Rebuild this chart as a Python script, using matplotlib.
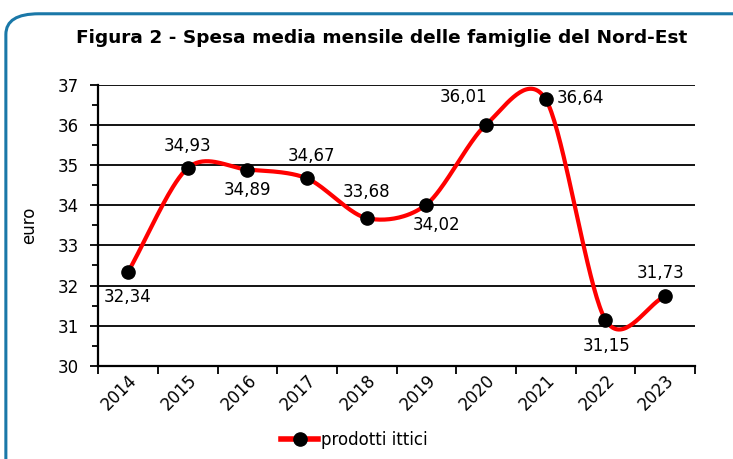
import numpy as np
import matplotlib
matplotlib.use("Agg")
import matplotlib.pyplot as plt
from matplotlib.patches import FancyBboxPatch

plt.rcParams['font.family'] = ['DejaVu Sans']

# dati
anni = ['2014', '2015', '2016', '2017', '2018', '2019', '2020', '2021', '2022', '2023']
spesa = [32.34, 34.93, 34.89, 34.67, 33.68, 34.02, 36.01, 36.64, 31.15, 31.73]
etichette = ['32,34', '34,93', '34,89', '34,67', '33,68', '34,02', '36,01', '36,64', '31,15', '31,73']
# posizione etichette (offset in punti)
offset = [(0, -18), (0, 16), (0, -15), (3, 16), (0, 19), (7, -15), (-16, 20), (25, 1), (1, -19), (-3, 17)]


def catmull_rom(x, y, n=40, k=0.9):
    # curva smussata tipo Excel
    x = np.asarray(x, float)
    y = np.asarray(y, float)
    px = np.concatenate([[2 * x[0] - x[1]], x, [2 * x[-1] - x[-2]]])
    py = np.concatenate([[2 * y[0] - y[1]], y, [2 * y[-1] - y[-2]]])
    xs, ys = [], []
    t = np.linspace(0, 1, n)
    for i in range(1, len(px) - 2):
        p0, p1, p2, p3 = px[i - 1], px[i], px[i + 1], px[i + 2]
        q0, q1, q2, q3 = py[i - 1], py[i], py[i + 1], py[i + 2]
        # bezier
        b1x, b1y = p1 + k * (p2 - p0) / 6, q1 + k * (q2 - q0) / 6
        b2x, b2y = p2 - k * (p3 - p1) / 6, q2 - k * (q3 - q1) / 6
        xs.append((1 - t) ** 3 * p1 + 3 * (1 - t) ** 2 * t * b1x + 3 * (1 - t) * t ** 2 * b2x + t ** 3 * p2)
        ys.append((1 - t) ** 3 * q1 + 3 * (1 - t) ** 2 * t * b1y + 3 * (1 - t) * t ** 2 * b2y + t ** 3 * q2)
    return np.concatenate(xs), np.concatenate(ys)


fig = plt.figure(figsize=(7.33, 4.59), dpi=100)

# cornice arrotondata
bordo = FancyBboxPatch((0.008, -0.05), 1.05, 1.02, boxstyle="round,pad=0,rounding_size=0.045",
                       transform=fig.transFigure, facecolor='white', edgecolor='#1a78a8',
                       linewidth=2.2, zorder=0)
fig.patches.append(bordo)

ax = fig.add_axes([0.134, 0.203, 0.814, 0.612])
ax.set_zorder(1)
ax.patch.set_alpha(0)

xpos = np.arange(len(anni))
cx, cy = catmull_rom(xpos, spesa)
ax.plot(cx, cy, color='#ff0000', linewidth=3.0, zorder=3, solid_capstyle='round')
ax.plot(xpos, spesa, 'o', color='black', markersize=9.5, zorder=4)

for x, v, lab, off in zip(xpos, spesa, etichette, offset):
    ax.annotate(lab, (x, v), xytext=off, textcoords='offset points',
                ha='center', va='center', fontsize=12, color='black', zorder=5)

ax.set_xlim(-0.5, len(anni) - 0.5)
ax.set_ylim(30, 37)
ax.set_yticks(range(30, 38))
ax.set_yticks(np.arange(30, 37, 0.5), minor=True)
ax.yaxis.grid(True, color='black', linewidth=1.3)
ax.set_axisbelow(True)

ax.set_xticks(np.arange(-0.5, len(anni), 1))
ax.set_xticklabels([])
ax.set_xticks(xpos, minor=True)
ax.set_xticklabels(anni, minor=True, rotation=45, ha='right', rotation_mode='anchor', fontsize=12)
ax.tick_params(axis='x', which='major', length=6, width=1.3, direction='out')
ax.tick_params(axis='x', which='minor', length=0, pad=4)
ax.tick_params(axis='y', which='major', length=6, width=1.3, labelsize=12, direction='out', pad=8)
ax.tick_params(axis='y', which='minor', length=4, width=1.3, direction='out')

for s in ['top', 'right']:
    ax.spines[s].set_visible(False)
for s in ['left', 'bottom']:
    ax.spines[s].set_linewidth(1.6)

ax.set_ylabel('euro', fontsize=12, labelpad=14)

fig.text(0.52, 0.918, 'Figura 2 - Spesa media mensile delle famiglie del Nord-Est',
         ha='center', va='center', fontsize=13.3, fontweight='bold')

h = plt.Line2D([], [], color='#ff0000', linewidth=4, marker='o', markerfacecolor='black',
               markeredgecolor='black', markersize=9.5)
ax.legend(handles=[h], labels=['prodotti ittici'], loc='center', bbox_to_anchor=(0.43, -0.265),
          frameon=False, fontsize=12, handlelength=2.2, handletextpad=0.2)

fig.savefig('out.png', dpi=100)
